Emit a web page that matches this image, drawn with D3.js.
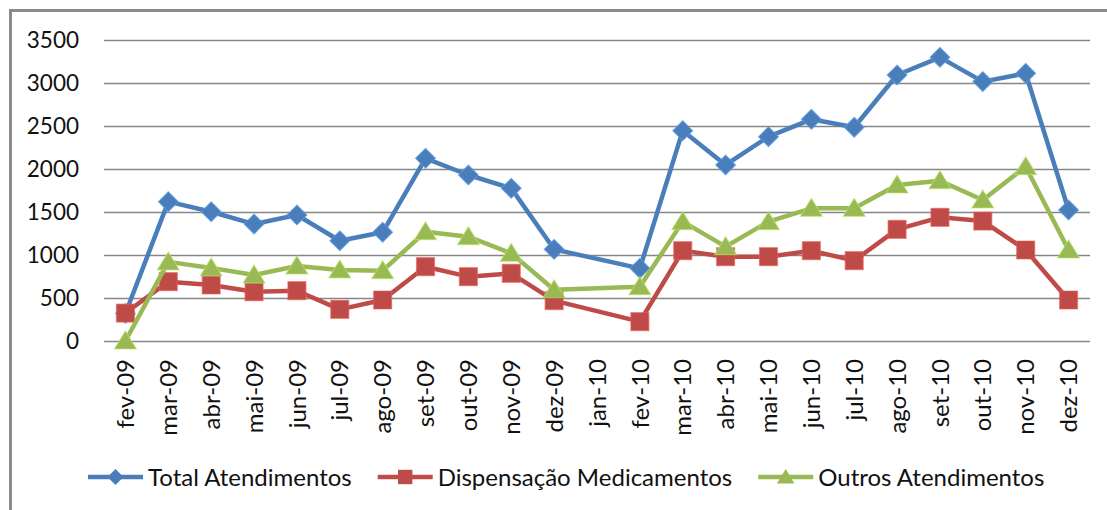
<!DOCTYPE html>
<html>
<head>
<meta charset="utf-8">
<script src="https://cdn.jsdelivr.net/npm/d3@7"></script>
<style>
  body { margin: 0; background: #fff; }
  svg { display: block; }
  text { font-family: Lato, "Open Sans", sans-serif; fill: #111; }
</style>
</head>
<body>
<svg id="chart"></svg>
<script>
let months = ['fev-09', 'mar-09', 'abr-09', 'mai-09', 'jun-09', 'jul-09', 'ago-09', 'set-09', 'out-09', 'nov-09', 'dez-09', 'jan-10',
              'fev-10', 'mar-10', 'abr-10', 'mai-10', 'jun-10', 'jul-10', 'ago-10', 'set-10', 'out-10', 'nov-10', 'dez-10'];

let total = [320, 1620, 1503, 1360, 1465, 1166, 1264, 2124, 1930, 1775, 1066, null,
             845, 2446, 2047, 2376, 2578, 2485, 3093, 3298, 3016, 3112, 1523];
let dispensacao = [325, 690, 651, 573, 585, 368, 477, 864, 748, 787, 470, null,
                   225, 1050, 980, 980, 1050, 934, 1298, 1438, 1395, 1058, 477];
let outros = [0, 920, 850, 767, 872, 826, 818, 1271, 1213, 1019, 596, null,
              632, 1388, 1097, 1388, 1543, 1543, 1814, 1864, 1640, 2027, 1058];

let yTicks = [0, 500, 1000, 1500, 2000, 2500, 3000, 3500];

let width = 1107;
let height = 510;
let plotLeft = 104, plotRight = 1090, plotTop = 40, plotBottom = 341;

let series = [
  { name: 'Total Atendimentos', values: total, color: '#4a7ebb', marker: 'diamond' },
  { name: 'Dispensação Medicamentos', values: dispensacao, color: '#be4b48', marker: 'square' },
  { name: 'Outros Atendimentos', values: outros, color: '#98b954', marker: 'triangle' }
];

let svg = d3.select('#chart')
        .attr('width', width)
        .attr('height', height);

// outer frame (only top/left visible in the crop)
svg.append('rect')
        .attr('x', 10.5)
        .attr('y', 10.5)
        .attr('width', width + 20)
        .attr('height', height + 20)
        .attr('fill', 'none')
        .attr('stroke', '#8a8a8a')
        .attr('stroke-width', 3);

let xScale = d3.scaleBand()
        .domain(months)
        .range([plotLeft, plotRight])
        .padding(0);

let yScale = d3.scaleLinear()
        .domain([0, 3500])
        .range([plotBottom, plotTop]);

let cx = m => xScale(m) + xScale.bandwidth() / 2;

let yAxis = d3.axisLeft(yScale)
        .tickValues(yTicks)
        .tickFormat(d3.format('d'))
        .tickSize(-(plotRight - plotLeft))
        .tickPadding(25);

let gy = svg.append('g')
        .attr('transform', 'translate(' + plotLeft + ',0)')
        .call(yAxis);
gy.select('.domain').remove();
gy.selectAll('line')
        .attr('stroke', '#868686')
        .attr('stroke-width', 1.4);
gy.selectAll('text')
        .style('font-size', '22.5px')
        .style('font-family', 'Lato, sans-serif')
        .attr('fill', '#111');

let xAxis = d3.axisBottom(xScale).tickSize(0);

let gx = svg.append('g')
        .attr('transform', 'translate(0,' + plotBottom + ')')
        .call(xAxis);
gx.select('.domain').remove();
gx.selectAll('text')
        .attr('transform', 'rotate(-90)')
        .attr('x', -18)
        .attr('y', 0)
        .attr('dy', '0.36em')
        .style('text-anchor', 'end')
        .style('font-size', '24px')
        .style('font-family', 'Lato, sans-serif')
        .attr('fill', '#111');

function markerPath(type) {
  if (type === 'diamond') return 'M0,-10L10,0L0,10L-10,0Z';
  if (type === 'square') return 'M-9,-9H9V9H-9Z';
  return 'M0,-10L11,8H-11Z';
}

let line = d3.line()
        .x(d => cx(d.m))
        .y(d => yScale(d.v));

series.forEach(s => {
  let pts = months.map((m, i) => ({ m: m, v: s.values[i] })).filter(d => d.v != null);

  svg.append('path')
          .datum(pts)
          .attr('d', line)
          .attr('fill', 'none')
          .attr('stroke', s.color)
          .attr('stroke-width', 4.5)
          .attr('stroke-linejoin', 'round');

  svg.append('g')
          .selectAll('path')
          .data(pts)
          .enter()
          .append('path')
          .attr('transform', d => 'translate(' + cx(d.m) + ',' + yScale(d.v) + ')')
          .attr('d', markerPath(s.marker))
          .attr('fill', s.color)
          .attr('stroke', d3.color(s.color).brighter(0.6))
          .attr('stroke-opacity', 0.6)
          .attr('stroke-width', 1.2);
});

// legend
let legend = svg.append('g').attr('transform', 'translate(0,477)');
let lx = 88;
series.forEach(s => {
  let g = legend.append('g').attr('transform', 'translate(' + lx + ',0)');
  g.append('line')
          .attr('x1', 0).attr('x2', 55)
          .attr('stroke', s.color)
          .attr('stroke-width', 4.5);
  g.append('path')
          .attr('transform', 'translate(27.5,0) scale(0.8)')
          .attr('d', markerPath(s.marker))
          .attr('fill', s.color);
  let t = g.append('text')
          .attr('x', 60)
          .attr('dy', '0.36em')
          .style('font-size', '24px')
          .text(s.name);
  lx += 60 + t.node().getComputedTextLength() + 26;
});
</script>
</body>
</html>
